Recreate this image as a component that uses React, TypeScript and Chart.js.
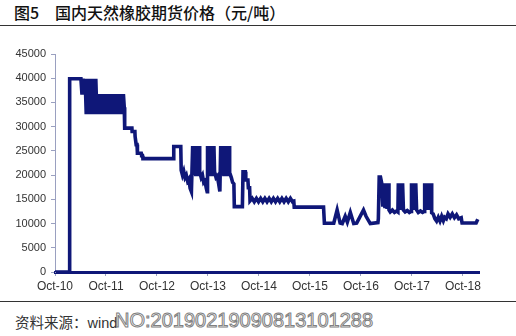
import React, { useEffect, useRef } from "react";
import { Chart, registerables } from "chart.js";

Chart.register(...registerables);

// x = months since Oct-2010, y = price (元/吨)
const xTickLabels = ["Oct-10", "Oct-11", "Oct-12", "Oct-13", "Oct-14", "Oct-15", "Oct-16", "Oct-17", "Oct-18"];

const segment2010to2012: [number, number][] = [
  [0, 0], [3.35, 0], [3.45, 39900], [6.1, 39900],
  [6.35, 36600], [6.6, 39900], [6.85, 36600], [7.1, 39900], [7.35, 32600], [7.6, 39900],
  [7.85, 32600], [8.1, 39900], [8.35, 32600], [8.6, 39900], [8.85, 32600], [9.1, 39900],
  [9.35, 32600], [9.6, 39900], [9.85, 32600], [10.1, 36700],
  [10.35, 32600], [10.6, 36700], [10.85, 32600], [11.1, 36700], [11.35, 32600], [11.6, 36700],
  [11.85, 32600], [12.1, 36700], [12.35, 32600], [12.6, 36700], [12.85, 32600], [13.1, 36700],
  [13.35, 32600], [13.6, 36700], [13.85, 32600], [14.1, 36700], [14.35, 32600], [14.6, 36700],
  [14.85, 32600], [15.1, 36700], [15.35, 32600], [15.6, 36700], [15.85, 32600], [16.1, 36700],
  [16.3, 34000], [16.4, 29700], [18.1, 29700], [18.15, 29000], [18.8, 29000], [18.85, 28000],
  [19.0, 28000], [19.1, 26300], [19.3, 26300], [19.4, 24500], [20.3, 24500], [20.4, 24000],
  [20.6, 24000], [20.7, 23400], [27.85, 23400], [27.95, 25900], [29.6, 25900],
];

const segment2013to2015: [number, number][] = [
  [29.7, 21000], [30.0, 20000], [30.3, 20800], [30.6, 19500], [30.9, 20000], [31.2, 18800],
  [31.5, 19200], [31.8, 17300], [32.1, 16600],
  [32.4, 26000], [32.65, 20000], [32.9, 26000], [33.15, 19800], [33.4, 26000], [33.65, 19800],
  [33.9, 26000], [34.05, 20700], [34.4, 19500], [34.7, 20000], [35.0, 18500], [35.3, 18800],
  [35.6, 17300], [35.8, 16600],
  [35.9, 26000], [36.15, 20000], [36.4, 26000], [36.65, 19800], [36.9, 26000], [37.15, 19800],
  [37.4, 26000], [37.55, 20700], [37.9, 19500], [38.2, 19800], [38.5, 18300], [38.8, 16600],
  [39.0, 26000], [39.25, 20000], [39.5, 26000], [39.75, 19800], [40.0, 26000], [40.25, 19800],
  [40.5, 26000], [40.75, 19800], [41.0, 26000], [41.1, 20500], [41.5, 19500], [41.8, 18500],
  [42.1, 18200], [42.2, 13500], [44.1, 13500], [44.25, 20700], [44.8, 20700], [44.9, 19000],
  [45.4, 19000], [45.5, 17400], [45.8, 17400], [45.9, 14700],
  [46.4, 15200], [46.9, 14500], [47.4, 15200], [47.9, 14500], [48.4, 15200], [48.9, 14500],
  [49.4, 15200], [49.9, 14500], [50.4, 15200], [50.9, 14500], [51.4, 15200], [51.9, 14500],
  [52.4, 15200], [52.9, 14500], [53.4, 15200], [53.9, 14500], [54.4, 15200], [54.9, 14500],
  [55.4, 15200], [55.9, 14500], [56.2, 14600], [56.3, 13400], [63.2, 13400],
];

const segment2016to2019: [number, number][] = [
  [63.4, 10050], [65.6, 10050], [66.4, 12800], [67.1, 10100], [67.6, 10000], [68.3, 11500],
  [68.8, 10300], [69.5, 12300], [70.3, 10000], [71.0, 10100], [72.6, 12800], [73.2, 11500],
  [74.2, 10000], [76.0, 10200], [76.1, 11000], [76.3, 19600], [76.6, 19600], [76.9, 18300],
  [77.15, 13500], [77.4, 18300], [77.65, 13200], [77.9, 18300], [78.15, 13000], [78.4, 18300],
  [78.6, 12800], [78.9, 12400], [79.4, 12800], [79.9, 12300], [80.4, 12600], [80.7, 12400],
  [80.8, 18300], [81.05, 13000], [81.3, 18300], [81.55, 12800], [81.8, 18300], [82.0, 12800],
  [82.4, 12400], [82.9, 12700], [83.4, 12300], [83.8, 12500],
  [83.9, 18300], [84.15, 13000], [84.4, 18300], [84.65, 12800], [84.9, 18300], [85.1, 12800],
  [85.5, 12300], [86.0, 12600], [86.5, 12300], [86.9, 12500],
  [87.0, 18300], [87.25, 13000], [87.5, 18300], [87.75, 12800], [88.0, 18300], [88.25, 12800],
  [88.5, 18300], [88.65, 12200], [89.0, 12000], [89.4, 11000], [89.8, 10500], [90.2, 11300],
  [90.6, 10500], [91.0, 11500], [91.4, 10600], [91.7, 11300], [92.1, 11000], [92.5, 12000],
  [93.0, 11300], [93.5, 12000], [94.0, 11200], [94.5, 11800], [95.0, 11000], [95.6, 11200],
  [95.8, 10100], [99.1, 10100], [99.5, 10900],
];

const lineColor = "#0f1778";

export default function App() {
  const canvasRef = useRef<HTMLCanvasElement | null>(null);

  useEffect(() => {
    if (!canvasRef.current) return;
    const pts = [...segment2010to2012, ...segment2013to2015, ...segment2016to2019].map(([x, y]) => ({ x, y }));
    const chart = new Chart(canvasRef.current, {
      type: "line",
      data: {
        datasets: [
          {
            data: pts,
            borderColor: lineColor,
            borderWidth: 3.6,
            pointRadius: 0,
            tension: 0,
            fill: false,
            borderJoinStyle: "miter",
          },
        ],
      },
      options: {
        animation: false,
        responsive: false,
        devicePixelRatio: 1,
        layout: { padding: { top: 14, right: 2, left: 0, bottom: 0 } },
        plugins: { legend: { display: false }, tooltip: { enabled: false } },
        scales: {
          x: {
            type: "linear",
            min: 0,
            max: 100,
            afterFit: (s: any) => {
              s.height = 18;
            },
            ticks: {
              stepSize: 12,
              includeBounds: false,
              autoSkip: false,
              maxRotation: 0,
              padding: 3,
              color: "#333",
              font: { family: "'Liberation Sans', Arial, sans-serif", size: 12 },
              callback: (v: any) => xTickLabels[Math.round(Number(v) / 12)] ?? "",
            },
            grid: { drawOnChartArea: false, drawTicks: true, tickLength: 4, color: "#9aa0c0" },
            border: { color: lineColor, width: 3 },
          },
          y: {
            min: 0,
            max: 45000,
            afterFit: (s: any) => {
              s.width = 55;
            },
            ticks: {
              stepSize: 5000,
              padding: 5,
              color: "#333",
              font: { family: "'Liberation Sans', Arial, sans-serif", size: 11 },
              callback: (v: any) => String(v),
            },
            grid: { drawOnChartArea: false, drawTicks: true, tickLength: 4, color: "#9aa0c0" },
            border: { color: "#9aa0c0", width: 1 },
          },
        },
      },
    });
    return () => chart.destroy();
  }, []);

  return (
    <div
      style={{
        position: "fixed",
        left: 0,
        top: 0,
        width: 516,
        height: 336,
        background: "#fff",
        overflow: "hidden",
        fontFamily: "'Noto Sans CJK SC', sans-serif",
      }}
    >
      <div style={{ position: "absolute", left: 14, top: 3, fontSize: 16, lineHeight: "18px", color: "#111", fontWeight: 500, whiteSpace: "nowrap" }}>
        图5
      </div>
      <div style={{ position: "absolute", left: 55, top: 3, fontSize: 16, lineHeight: "18px", color: "#111", fontWeight: 500, whiteSpace: "nowrap" }}>
        国内天然橡胶期货价格（元/吨）
      </div>
      <div style={{ position: "absolute", left: 0, top: 25, width: 516, height: 1, background: "#333" }} />
      <canvas ref={canvasRef} width={484} height={250} style={{ position: "absolute", left: 0, top: 40, width: 484, height: 250 }} />
      <div style={{ position: "absolute", left: 0, top: 301, width: 516, height: 1, background: "#333" }} />
      <div style={{ position: "absolute", left: 15, top: 313, fontSize: 14.5, lineHeight: "18px", color: "#333", whiteSpace: "nowrap" }}>
        资料来源：<span style={{ fontFamily: "'Liberation Sans', Arial, sans-serif" }}>wind</span>
      </div>
      <div
        style={{
          position: "absolute",
          left: 115,
          top: 309,
          fontSize: 20,
          lineHeight: "22px",
          fontFamily: "'Liberation Sans', Arial, sans-serif",
          color: "rgba(255,255,255,0.55)",
          WebkitTextStroke: "1px #808080",
          whiteSpace: "nowrap",
        }}
      >
        NO:20190219090813101288
      </div>
    </div>
  );
}
